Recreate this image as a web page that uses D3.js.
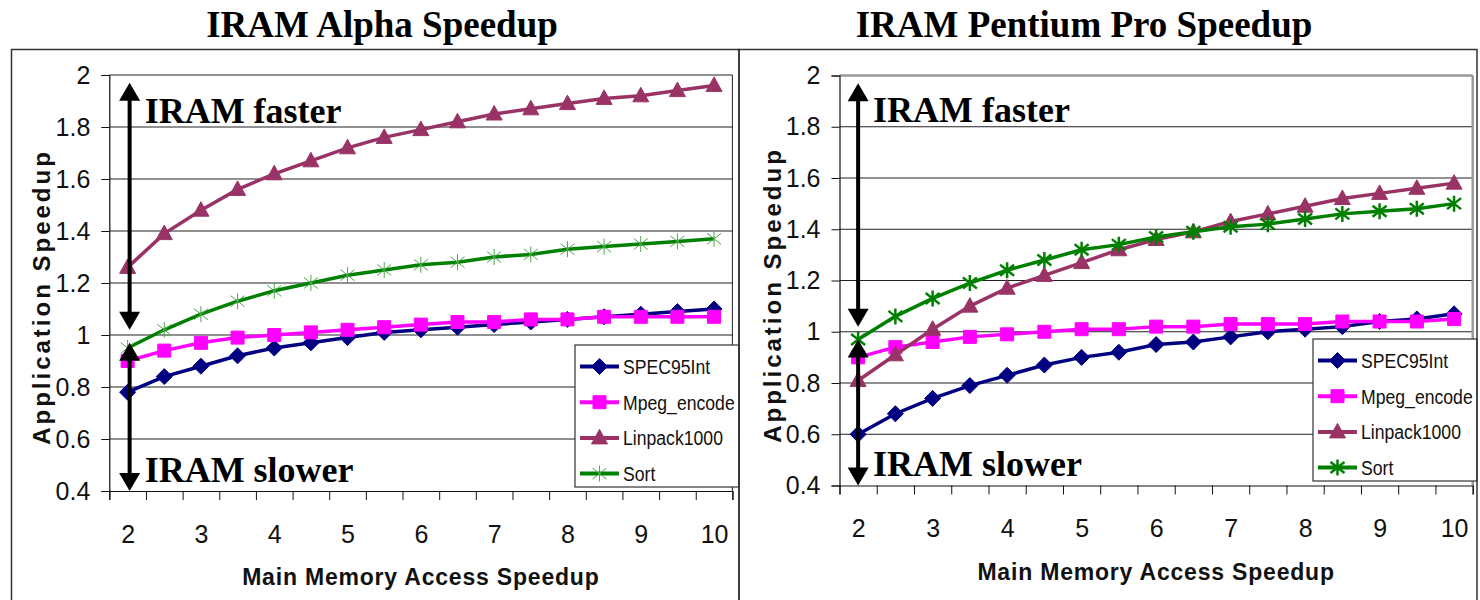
<!DOCTYPE html>
<html>
<head>
<meta charset="utf-8">
<script src="https://d3js.org/d3.v7.min.js"></script>
<style>
  body { margin: 0; background: #fff; }
  text { font-family: "Liberation Sans", Arial, sans-serif; }
</style>
</head>
<body>
<div id="chart"></div>
<script>

// x categories (main memory access speedup)
var xCats = [2, 2.5, 3, 3.5, 4, 4.5, 5, 5.5, 6, 6.5, 7, 7.5, 8, 8.5, 9, 9.5, 10];
var xTickLabels = [2, 3, 4, 5, 6, 7, 8, 9, 10];
var yTicks = [0.4, 0.6, 0.8, 1, 1.2, 1.4, 1.6, 1.8, 2];
var seriesNames = ["SPEC95Int", "Mpeg_encode", "Linpack1000", "Sort"];

// IRAM Alpha
var alphaSpec    = [0.78, 0.84, 0.88, 0.92, 0.95, 0.97, 0.99, 1.01, 1.02, 1.03, 1.04, 1.05, 1.06, 1.07, 1.08, 1.09, 1.10];
var alphaMpeg    = [0.90, 0.94, 0.97, 0.99, 1.00, 1.01, 1.02, 1.03, 1.04, 1.05, 1.05, 1.06, 1.06, 1.07, 1.07, 1.07, 1.07];
var alphaLinpack = [1.26, 1.39, 1.48, 1.56, 1.62, 1.67, 1.72, 1.76, 1.79, 1.82, 1.85, 1.87, 1.89, 1.91, 1.92, 1.94, 1.96];
var alphaSort    = [0.95, 1.02, 1.08, 1.13, 1.17, 1.20, 1.23, 1.25, 1.27, 1.28, 1.30, 1.31, 1.33, 1.34, 1.35, 1.36, 1.37];

// IRAM Pentium Pro
var ppSpec    = [0.60, 0.68, 0.74, 0.79, 0.83, 0.87, 0.90, 0.92, 0.95, 0.96, 0.98, 1.00, 1.01, 1.02, 1.04, 1.05, 1.07];
var ppMpeg    = [0.90, 0.94, 0.96, 0.98, 0.99, 1.00, 1.01, 1.01, 1.02, 1.02, 1.03, 1.03, 1.03, 1.04, 1.04, 1.04, 1.05];
var ppLinpack = [0.81, 0.91, 1.01, 1.10, 1.17, 1.22, 1.27, 1.32, 1.36, 1.39, 1.43, 1.46, 1.49, 1.52, 1.54, 1.56, 1.58];
var ppSort    = [0.97, 1.06, 1.13, 1.19, 1.24, 1.28, 1.32, 1.34, 1.37, 1.39, 1.41, 1.42, 1.44, 1.46, 1.47, 1.48, 1.50];

var colors = ["#000080", "#ff00ff", "#993366", "#008000"];

var svg = d3.select("#chart").append("svg")
    .attr("width", 1480)
    .attr("height", 600);

// marker shapes
var markerPath = [
  "M0,-8L8,0L0,8L-8,0Z",
  "M-6.5,-6.5H6.5V6.5H-6.5Z",
  "M0,-8.5L8,6L-8,6Z",
  "M0,-8V8M-7,-5.5L7,5.5M-7,5.5L7,-5.5"
];

function drawPanel(p) {
  var g = svg.append("g");

  // title
  g.append("text")
    .attr("x", p.titleX).attr("y", 37)
    .attr("text-anchor", "middle")
    .style("font-family", "'Liberation Serif', 'Times New Roman', serif")
    .style("font-weight", "bold")
    .style("font-size", "37px")
    .text(p.title);

  var x = d3.scaleLinear().domain([1.75, 10.25]).range([p.x0, p.x1]);
  var y = d3.scaleLinear().domain([0.4, 2]).range([p.y1, p.y0]);

  // gridlines
  g.append("g").selectAll("line")
    .data(yTicks.slice(1))
    .enter().append("line")
      .attr("x1", p.x0).attr("x2", p.x1)
      .attr("y1", function(d) { return y(d); })
      .attr("y2", function(d) { return y(d); })
      .attr("stroke", function(d) { return d === 2 ? p.borderColor : "#222"; })
      .attr("stroke-width", function(d) { return d === 2 ? p.borderWidth : 1; });

  // right border of plot area
  g.append("line")
    .attr("x1", p.x1).attr("x2", p.x1)
    .attr("y1", p.y0).attr("y2", p.y1)
    .attr("stroke", p.borderColor).attr("stroke-width", p.borderWidth);

  // y axis
  var yAxis = g.append("g")
    .attr("transform", "translate(" + p.x0 + ",0)")
    .call(d3.axisLeft(y).tickValues(yTicks).tickSize(8).tickPadding(11)
      .tickFormat(function(d) { return String(d); }));
  yAxis.select(".domain").attr("stroke", "#111").attr("stroke-width", 1.2);
  yAxis.selectAll(".tick line").attr("stroke", "#111");
  yAxis.selectAll("text")
    .style("font-family", "'Liberation Sans', Arial, sans-serif")
    .style("font-size", "25px").attr("fill", "#111");

  // x axis: tick marks on category boundaries
  var bounds = xCats.map(function(c) { return c - 0.25; }).concat([10.25]);
  var xAxis = g.append("g")
    .attr("transform", "translate(0," + p.y1 + ")")
    .call(d3.axisBottom(x).tickValues(bounds).tickSize(9).tickFormat(""));
  xAxis.select(".domain").attr("stroke", "#111").attr("stroke-width", 1.2);
  xAxis.selectAll(".tick line").attr("stroke", "#111");

  var xLab = g.append("g")
    .attr("transform", "translate(0," + p.y1 + ")")
    .call(d3.axisBottom(x).tickValues(xTickLabels).tickSize(0).tickPadding(34));
  xLab.select(".domain").remove();
  xLab.selectAll("text")
    .style("font-family", "'Liberation Sans', Arial, sans-serif")
    .style("font-size", "25px").attr("fill", "#111");

  // axis titles
  g.append("text")
    .attr("x", (p.x0 + p.x1) / 2).attr("y", p.y1 + 94)
    .attr("text-anchor", "middle")
    .style("font-weight", "bold").style("font-size", "23px")
    .style("letter-spacing", "0.8px")
    .attr("fill", "#111")
    .text("Main Memory Access Speedup");

  g.append("text")
    .attr("transform", "translate(" + p.yTitleX + "," + p.yTitleY + ") rotate(-90)")
    .attr("text-anchor", "middle")
    .style("font-weight", "bold").style("font-size", "24px")
    .style("letter-spacing", "3px")
    .attr("fill", "#111")
    .text("Application Speedup");

  // series
  var line = d3.line()
    .x(function(d, i) { return x(xCats[i]); })
    .y(function(d) { return y(d); });

  p.series.forEach(function(vals, s) {
    g.append("path")
      .datum(vals)
      .attr("d", line)
      .attr("fill", "none")
      .attr("stroke", colors[s])
      .attr("stroke-width", 3.5);

    g.append("g").selectAll("path")
      .data(vals)
      .enter().append("path")
        .attr("transform", function(d, i) { return "translate(" + x(xCats[i]) + "," + y(d) + ")"; })
        .attr("d", markerPath[s])
        .attr("fill", s === 3 ? "none" : colors[s])
        .attr("stroke", s === 3 ? p.sortMarker : colors[s])
        .attr("stroke-width", s === 3 ? p.sortMarkerWidth : 1);
  });

  // arrows
  var ax = x(2) + p.arrowDx;
  function arrow(yTop, yBot) {
    g.append("line")
      .attr("x1", ax).attr("x2", ax)
      .attr("y1", yTop + 10).attr("y2", yBot - 10)
      .attr("stroke", "#000").attr("stroke-width", 4);
    g.append("path")
      .attr("d", "M" + ax + "," + yTop + "l10.5,18h-21z")
      .attr("fill", "#000");
    g.append("path")
      .attr("d", "M" + ax + "," + yBot + "l10.5,-18h-21z")
      .attr("fill", "#000");
  }
  arrow(y(1.97), y(1.02));
  arrow(y(0.97), y(0.40));

  g.append("text")
    .attr("x", ax + 15).attr("y", y(1.817))
    .style("font-family", "'Liberation Serif', 'Times New Roman', serif")
    .style("font-weight", "bold").style("font-size", "36px")
    .text("IRAM faster");
  g.append("text")
    .attr("x", ax + 15).attr("y", y(0.436))
    .style("font-family", "'Liberation Serif', 'Times New Roman', serif")
    .style("font-weight", "bold").style("font-size", "36px")
    .text("IRAM slower");

  // legend
  var lg = g.append("g").attr("transform", "translate(" + p.legend[0] + "," + p.legend[1] + ")");
  lg.append("rect")
    .attr("width", p.legend[2]).attr("height", 142)
    .attr("fill", "#fff").attr("stroke", "#333").attr("stroke-width", 1.2);
  seriesNames.forEach(function(name, s) {
    var ly = 21.5 + s * 35.7;
    lg.append("line")
      .attr("x1", 5).attr("x2", 44)
      .attr("y1", ly).attr("y2", ly)
      .attr("stroke", colors[s]).attr("stroke-width", 4);
    lg.append("path")
      .attr("transform", "translate(24.5," + ly + ")")
      .attr("d", markerPath[s])
      .attr("fill", s === 3 ? "none" : colors[s])
      .attr("stroke", s === 3 ? p.sortMarker : colors[s])
      .attr("stroke-width", s === 3 ? p.sortMarkerWidth : 1);
    lg.append("text")
      .attr("transform", "translate(48," + (ly + 7.5) + ") scale(0.84,1)")
      .style("font-size", "21px").attr("fill", "#111")
      .text(name);
  });

  // panel frame (on top, so the legend is cut at its edge)
  g.append("rect")
    .attr("x", p.frame[0]).attr("y", p.frame[1])
    .attr("width", p.frame[2]).attr("height", p.frame[3])
    .attr("fill", "none").attr("stroke", "#333").attr("stroke-width", 1.5);
}

drawPanel({
  title: "IRAM Alpha Speedup", titleX: 382,
  frame: [11.5, 49.5, 727.5, 560],
  x0: 109.3, x1: 732.4, y0: 75, y1: 491,
  yTitleX: 50, yTitleY: 297,
  borderColor: "#222", borderWidth: 1,
  sortMarker: "#4aa84a", sortMarkerWidth: 1,
  arrowDx: 2,
  legend: [575, 345, 164],
  series: [alphaSpec, alphaMpeg, alphaLinpack, alphaSort]
});

drawPanel({
  title: "IRAM Pentium Pro Speedup", titleX: 1084,
  frame: [739, 49.5, 738, 560],
  x0: 839.5, x1: 1472.7, y0: 75.5, y1: 485.5,
  yTitleX: 781, yTitleY: 295,
  borderColor: "#999", borderWidth: 2.5,
  sortMarker: "#008000", sortMarkerWidth: 2.5,
  arrowDx: 0,
  legend: [1313, 339, 164],
  series: [ppSpec, ppMpeg, ppLinpack, ppSort]
});

</script>
</body>
</html>
